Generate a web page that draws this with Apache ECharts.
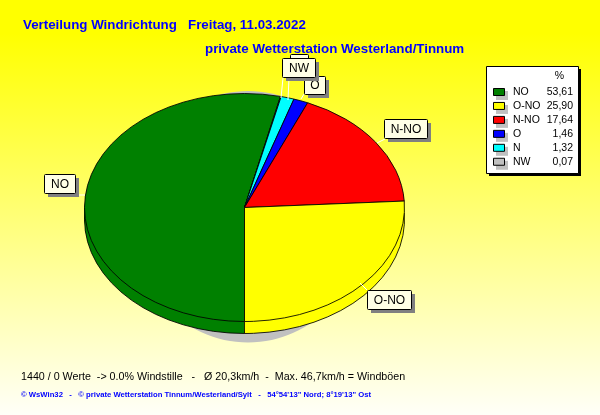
<!DOCTYPE html>
<html><head><meta charset="utf-8">
<style>html,body{margin:0;padding:0;background:#fff}#c{width:600px;height:415px}</style>
<script src="https://cdn.jsdelivr.net/npm/echarts@6/dist/echarts.min.js"></script>
</head><body><div id="c"></div>
<script>
// Data
const legendNames = ['NO','O-NO','N-NO','O','N','NW'];
const legendValues = [53.61,25.90,17.64,1.46,1.32,0.07];
const legendTexts = ['53,61','25,90','17,64','1,46','1,32','0,07'];
const sliceOrder = ['NO','NW','N','O','N-NO','O-NO'];
const titleText = 'Verteilung Windrichtung   Freitag, 11.03.2022';
const subtitleText = 'private Wetterstation Westerland/Tinnum';
const statsText = '1440 / 0 Werte  -> 0.0% Windstille   -   Ø 20,3km/h  -  Max. 46,7km/h = Windböen';
const creditText = '© WsWin32   -   © private Wetterstation Tinnum/Westerland/Sylt   -   54°54\'13" Nord; 8°19\'13" Ost';

// Styles & layout
const colors = {'NO':'#008000','O-NO':'#ffff00','N-NO':'#ff0000','O':'#0000ff','N':'#00ffff','NW':'#c0c0c0'};
const P = {cx:244.5, cy:207.5, rx:160, ry:114, depth:12};
const labelBoxes = [
  {t:'N',   x:290,y:54,w:18,h:18},
  {t:'O',   x:304,y:76,w:21,h:18},
  {t:'NW',  x:282,y:58,w:33,h:19},
  {t:'N-NO',x:384,y:119,w:43,h:19},
  {t:'NO',  x:44, y:174,w:31,h:19},
  {t:'O-NO',x:367,y:290,w:44,h:19}
];
const leaders = [
  [[78,195],[85,195]],
  [[385,139],[377,143]],
  [[304,94],[301,99]],
  [[283,78],[281,98]],
  [[289,78],[288,100]],
  [[367,290],[360,283]]
];

const total = sliceOrder.reduce((s,n)=>s+legendValues[legendNames.indexOf(n)],0);
const sliceValues = sliceOrder.map(n=>legendValues[legendNames.indexOf(n)]);
function angles(i){
  let a = 0; for(let k=0;k<i;k++) a += sliceValues[k];
  const s = Math.PI/2 + a/total*2*Math.PI;
  return [s, s + sliceValues[i]/total*2*Math.PI];
}
function sector(i, dy, stroke){
  const [s,e] = angles(i);
  return {type:'sector', x:P.cx, y:P.cy+dy, scaleY:P.ry/P.rx,
    shape:{cx:0,cy:0,r:P.rx,startAngle:s,endAngle:e,clockwise:true},
    style:{fill:colors[sliceOrder[i]], stroke:stroke?'#000':null, lineWidth:1, strokeNoScale:true}};
}
const FONT = '"Liberation Sans", Arial, sans-serif';
const g = [];
// pie shadow
g.push({type:'ellipse', z:1, silent:true, shape:{cx:248,cy:216.75,rx:118,ry:125.75}, style:{fill:'#c0c0c0'}});
// leader lines + callouts
leaders.forEach(l=>g.push({type:'line', z:8, silent:true, shape:{x1:l[0][0],y1:l[0][1],x2:l[1][0],y2:l[1][1]}, style:{stroke:'#fff',lineWidth:1}}));
labelBoxes.forEach((b,i)=>{
  const z = 10+i;
  g.push({type:'rect', z, silent:true, shape:{x:b.x+4,y:b.y+4,width:b.w,height:b.h}, style:{fill:'#808080'}});
  g.push({type:'rect', z, silent:true, shape:{x:b.x+.5,y:b.y+.5,width:b.w,height:b.h,r:1}, style:{fill:'#ffffe6',stroke:'#000',lineWidth:1}});
  g.push({type:'text', z, silent:true, x:b.x+b.w/2+.5, y:b.y+b.h/2+1, style:{text:b.t,fill:'#000',font:'12px '+FONT,textAlign:'center',textVerticalAlign:'middle'}});
});
// legend box
g.push({type:'rect', z:5, silent:true, shape:{x:489,y:69,width:92,height:107}, style:{fill:'#000'}});
g.push({type:'rect', z:5, silent:true, shape:{x:486.5,y:66.5,width:92,height:107}, style:{fill:'#fff',stroke:'#000',lineWidth:1}});
g.push({type:'text', z:6, silent:true, x:559.5, y:76, style:{text:'%',fill:'#000',font:'10.5px '+FONT,textAlign:'center',textVerticalAlign:'middle'}});
legendNames.forEach((n,i)=>{
  const y = 92 + i*13.95;
  g.push({type:'rect', z:6, silent:true, shape:{x:496,y:y-1,width:12,height:9}, style:{fill:'#c0c0c0'}});
  g.push({type:'rect', z:6, silent:true, shape:{x:493.5,y:y-3.5,width:11,height:7}, style:{fill:colors[n],stroke:'#000',lineWidth:1}});
  g.push({type:'text', z:6, silent:true, x:513, y:y, style:{text:n,fill:'#000',font:'10.5px '+FONT,textAlign:'left',textVerticalAlign:'middle'}});
  g.push({type:'text', z:6, silent:true, x:573, y:y, style:{text:legendTexts[i],fill:'#000',font:'10.5px '+FONT,textAlign:'right',textVerticalAlign:'middle'}});
});
// footer text
g.push({type:'text', z:6, silent:true, x:21, y:377, style:{text:statsText,fill:'#000',font:'10.7px '+FONT,textAlign:'left',textVerticalAlign:'middle'}});
g.push({type:'text', z:6, silent:true, x:21, y:394.5, style:{text:creditText,fill:'#0000ff',font:'bold 7.7px '+FONT,textAlign:'left',textVerticalAlign:'middle'}});
// titles on top of callouts
g.push({type:'text', z:30, silent:true, x:23, y:25.5, style:{text:titleText,fill:'#0000ff',font:'bold 13.33px '+FONT,textAlign:'left',textVerticalAlign:'middle'}});
g.push({type:'text', z:30, silent:true, x:205, y:49.5, style:{text:subtitleText,fill:'#0000ff',font:'bold 13.33px '+FONT,textAlign:'left',textVerticalAlign:'middle'}});

const chart = echarts.init(document.getElementById('c'), null, {renderer:'canvas'});
const seriesData = sliceOrder.map((n,i)=>({name:n, value:sliceValues[i]}));
chart.setOption({
  animation:false,
  backgroundColor:{type:'linear',x:0,y:0,x2:0,y2:1,colorStops:[{offset:0,color:'#ffff00'},{offset:0.08,color:'#ffff00'},{offset:1,color:'#fffff8'}]},
  graphic:{elements:g},
  series:[
    {type:'custom', name:'wall', coordinateSystem:'none', silent:true, z:2, data:seriesData,
     renderItem:(p)=>{
       const kids=[];
       for(let d=1;d<P.depth;d++) kids.push(sector(p.dataIndex,d,false));
       kids.push(sector(p.dataIndex,P.depth,true));
       return {type:'group',children:kids};
     }},
    {type:'custom', name:'Windrichtung', coordinateSystem:'none', silent:true, z:3, data:seriesData,
     renderItem:(p)=>sector(p.dataIndex,0,true)}
  ]
});
</script></body></html>
